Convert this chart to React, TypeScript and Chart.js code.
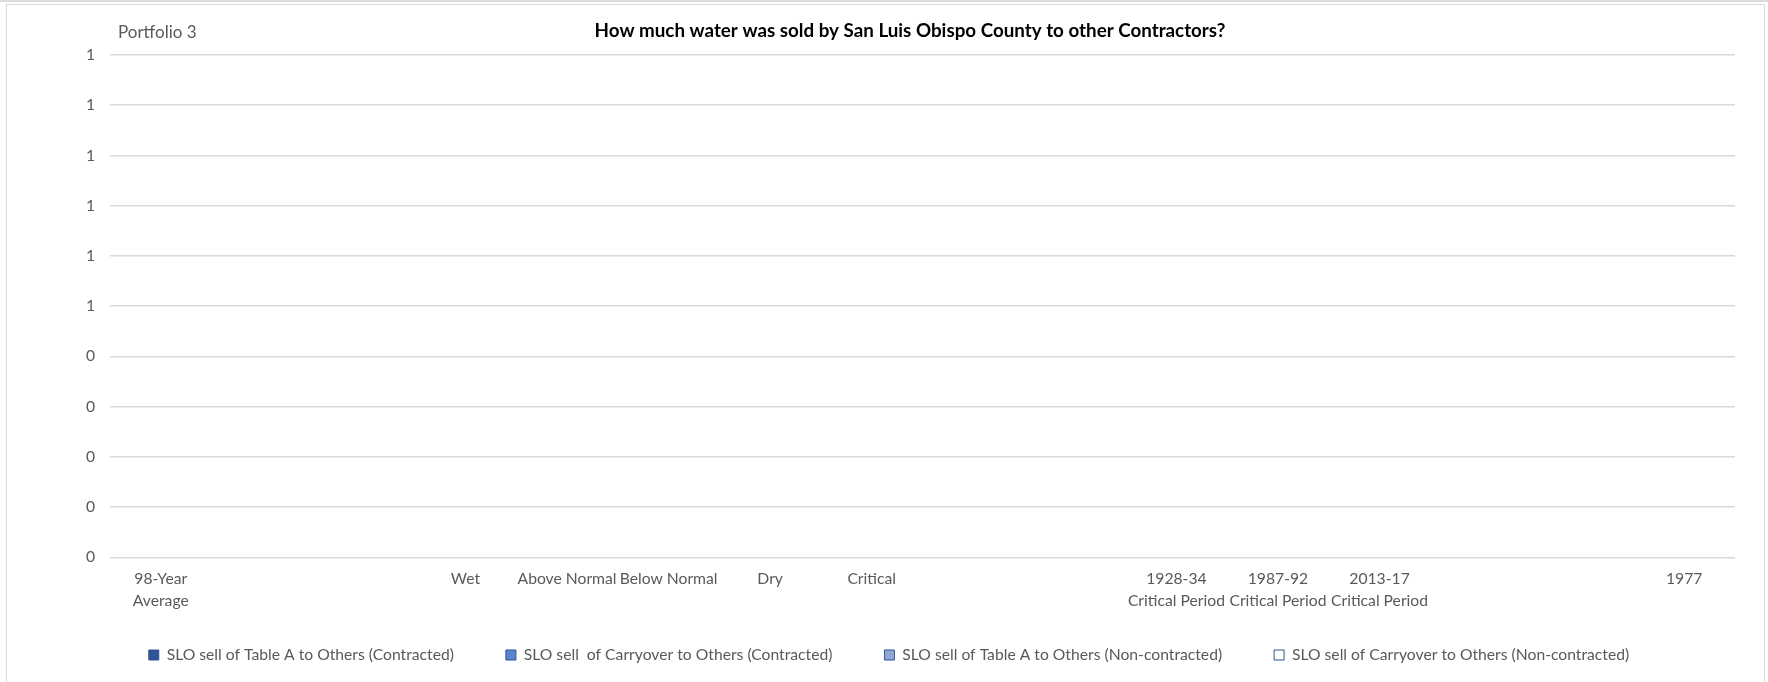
import React, { useEffect, useRef } from "react";
import { Chart, registerables } from "chart.js";

Chart.register(...registerables);

const chartTitle = "How much water was sold by San Luis Obispo County to other Contractors?";
const portfolioLabel = "Portfolio 3";

const categories: (string | string[])[] = [
  ["98-Year", "Average"],
  "",
  "",
  "Wet",
  "Above Normal",
  "Below Normal",
  "Dry",
  "Critical",
  "",
  "",
  ["1928-34", "Critical Period"],
  ["1987-92", "Critical Period"],
  ["2013-17", "Critical Period"],
  "",
  "",
  "1977",
];

const seriesNames = [
  "SLO sell of Table A to Others (Contracted)",
  "SLO sell  of Carryover to Others (Contracted)",
  "SLO sell of Table A to Others (Non-contracted)",
  "SLO sell of Carryover to Others (Non-contracted)",
];

// The reference chart shows no bars: every value is empty.
const tableAContracted: (number | null)[] = [null, null, null, null, null, null, null, null, null, null, null, null, null, null, null, null];
const carryoverContracted: (number | null)[] = [null, null, null, null, null, null, null, null, null, null, null, null, null, null, null, null];
const tableANonContracted: (number | null)[] = [null, null, null, null, null, null, null, null, null, null, null, null, null, null, null, null];
const carryoverNonContracted: (number | null)[] = [null, null, null, null, null, null, null, null, null, null, null, null, null, null, null, null];

const yTickLabels = ["0", "0", "0", "0", "0", "1", "1", "1", "1", "1", "1"];

const FONT = "Lato, 'Open Sans', sans-serif";
const TEXT_GRAY = "#595959";
const LABEL_SIZE = 15.7;
const LEGEND_PAD = 52;
const LEGEND_TEXT_Y = 649;

const headerTexts = {
  id: "headerTexts",
  afterLayout(chart: any) {
    const lg = chart.legend;
    if (!lg) return;
    const d = lg.top + LEGEND_PAD + LABEL_SIZE / 2 - LEGEND_TEXT_Y;
    lg.top -= d;
    lg.bottom -= d;
  },
  afterDraw(chart: any) {
    const ctx = chart.ctx as CanvasRenderingContext2D;
    ctx.save();
    ctx.textBaseline = "middle";
    ctx.font = `bold 18.8px ${FONT}`;
    ctx.fillStyle = "#000000";
    ctx.textAlign = "center";
    ctx.fillText(chartTitle, 903, 25);
    ctx.font = `17px ${FONT}`;
    ctx.fillStyle = TEXT_GRAY;
    ctx.textAlign = "left";
    ctx.fillText(portfolioLabel, 111, 27);
    ctx.restore();
  },
};

export default function App() {
  const canvasRef = useRef<HTMLCanvasElement>(null);

  useEffect(() => {
    const canvas = canvasRef.current;
    if (!canvas) return;
    const chart = new Chart(canvas, {
      type: "bar",
      data: {
        labels: categories,
        datasets: [
          { label: seriesNames[0], data: tableAContracted, backgroundColor: "#2f5597", borderColor: "#2f5597", borderWidth: 1 },
          { label: seriesNames[1], data: carryoverContracted, backgroundColor: "#5b84cc", borderColor: "#2f5597", borderWidth: 1 },
          { label: seriesNames[2], data: tableANonContracted, backgroundColor: "#8fa6d2", borderColor: "#2f5597", borderWidth: 1 },
          { label: seriesNames[3], data: carryoverNonContracted, backgroundColor: "#ffffff", borderColor: "#2f5597", borderWidth: 1 },
        ],
      },
      options: {
        animation: false,
        responsive: false,
        maintainAspectRatio: false,
        layout: { padding: { top: 49, left: 36, right: 27, bottom: 11 } },
        plugins: {
          title: { display: false },
          tooltip: { enabled: false },
          legend: {
            position: "bottom",
            labels: {
              boxWidth: 10,
              boxHeight: 10,
              padding: LEGEND_PAD,
              color: TEXT_GRAY,
              font: { family: FONT, size: LABEL_SIZE },
            },
          },
        },
        scales: {
          x: {
            stacked: true,
            grid: { display: false, drawTicks: false },
            border: { display: false },
            ticks: {
              autoSkip: false,
              maxRotation: 0,
              minRotation: 0,
              padding: 11.5,
              color: TEXT_GRAY,
              font: { family: FONT, size: LABEL_SIZE, lineHeight: 1.35 },
            },
            afterFit(scale: any) {
              scale.height = 58;
            },
          },
          y: {
            stacked: true,
            min: 0,
            max: 1,
            grid: { color: "#d9d9d9", lineWidth: 1.5, drawTicks: false },
            border: { display: false },
            ticks: {
              stepSize: 0.1,
              padding: 15,
              color: TEXT_GRAY,
              font: { family: FONT, size: LABEL_SIZE },
              callback: (_value: any, index: number) => yTickLabels[index],
            },
            afterFit(scale: any) {
              scale.width = 67;
            },
          },
        },
      },
      plugins: [headerTexts],
    });
    return () => chart.destroy();
  }, []);

  return (
    <div style={{ position: "fixed", left: 0, top: 0, width: 1768, height: 682, background: "#ffffff", overflow: "hidden" }}>
      <div style={{ position: "absolute", left: 0, top: 0, width: 1768, height: 2, background: "#dcdcdc" }} />
      <div
        style={{
          position: "absolute",
          left: 6,
          top: 4,
          width: 1759,
          height: 720,
          border: "1px solid #d9d9d9",
          boxSizing: "border-box",
        }}
      />
      <canvas
        ref={canvasRef}
        width={1755}
        height={698}
        style={{ position: "absolute", left: 7, top: 6, width: 1755, height: 698 }}
      />
    </div>
  );
}
